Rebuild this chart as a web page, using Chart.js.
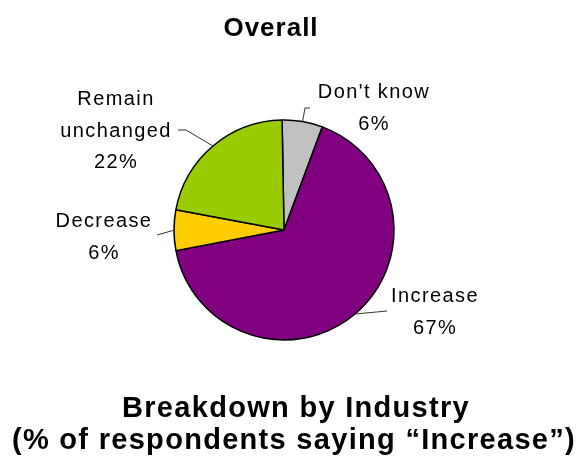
<!DOCTYPE html>
<html>
<head>
<meta charset="utf-8">
<title>Overall</title>
<script src="https://cdn.jsdelivr.net/npm/chart.js@4.4.1/dist/chart.umd.min.js"></script>
<style>
    html, body { margin: 0; padding: 0; background: #fff; }
    #wrap { width: 581px; height: 459px; position: relative; }
</style>
</head>
<body>
<div id="wrap"><canvas id="overallChart" width="581" height="459"></canvas></div>
<script>
// Survey answers, clockwise from 12 o'clock
const categories = ["Don't know", 'Increase', 'Decrease', 'Remain unchanged'];
const shares = [6, 67, 6, 22];
const sliceColors = ['#C0C0C0', '#800080', '#FFCC00', '#99CC00'];

const chartTitle = 'Overall';
const footerLines = ['Breakdown by Industry', '(% of respondents saying \u201cIncrease\u201d)'];

// Where each label sits (x centre, first baseline) and the bend of its leader line
const labelLayout = [
    { lines: ["Don't know"], x: 374, y: 98, leader: [[310, 108], [305, 108]] },
    { lines: ['Increase'], x: 435, y: 302, leader: [[387, 311]] },
    { lines: ['Decrease'], x: 104, y: 227, leader: [[157, 235]] },
    { lines: ['Remain', 'unchanged'], x: 116, y: 105, leader: [[178, 130], [186, 130]] }
];

// Draws title, footer and the outside labels with leader lines
const textPlugin = {
    id: 'pieText',
    afterDraw(chart) {
        const ctx = chart.ctx;
        const meta = chart.getDatasetMeta(0);
        ctx.save();
        ctx.fillStyle = '#000';
        ctx.textAlign = 'center';
        ctx.textBaseline = 'alphabetic';

        ctx.font = 'bold 26px "Liberation Sans", Arial, sans-serif';
        ctx.letterSpacing = '1px';
        ctx.fillText(chartTitle, 271, 36);

        ctx.font = 'bold 29px "Liberation Sans", Arial, sans-serif';
        ctx.letterSpacing = '1.3px';
        ctx.fillText(footerLines[0], 296, 417);
        ctx.fillText(footerLines[1], 294, 449);

        ctx.font = '20px "Liberation Sans", Arial, sans-serif';
        ctx.letterSpacing = '1.4px';
        labelLayout.forEach((lab, i) => {
            const arc = meta.data[i];
            const mid = (arc.startAngle + arc.endAngle) / 2;
            const ex = arc.x + Math.cos(mid) * arc.outerRadius;
            const ey = arc.y + Math.sin(mid) * arc.outerRadius;

            // leader line from the slice edge out to the label
            ctx.beginPath();
            ctx.strokeStyle = '#333';
            ctx.lineWidth = 1;
            ctx.moveTo(ex, ey);
            lab.leader.slice().reverse().forEach(p => ctx.lineTo(p[0], p[1]));
            ctx.stroke();

            const text = lab.lines.concat([shares[i] + '%']);
            text.forEach((t, j) => {
                ctx.fillText(t, lab.x, lab.y + j * 31.5);
            });
        });
        ctx.restore();
    }
};

const ctx = document.getElementById('overallChart').getContext('2d');
const overallChart = new Chart(ctx, {
    type: 'pie',
    data: {
        labels: categories,
        datasets: [{
            data: shares,
            backgroundColor: sliceColors,
            borderColor: '#000',
            borderWidth: 1.5,
            radius: 110
        }]
    },
    options: {
        responsive: false,
        animation: false,
        rotation: -1,
        layout: {
            padding: { left: 100, right: 113, top: 100, bottom: 99 }
        },
        plugins: {
            legend: { display: false },
            tooltip: { enabled: false }
        }
    },
    plugins: [textPlugin]
});
</script>
</body>
</html>
